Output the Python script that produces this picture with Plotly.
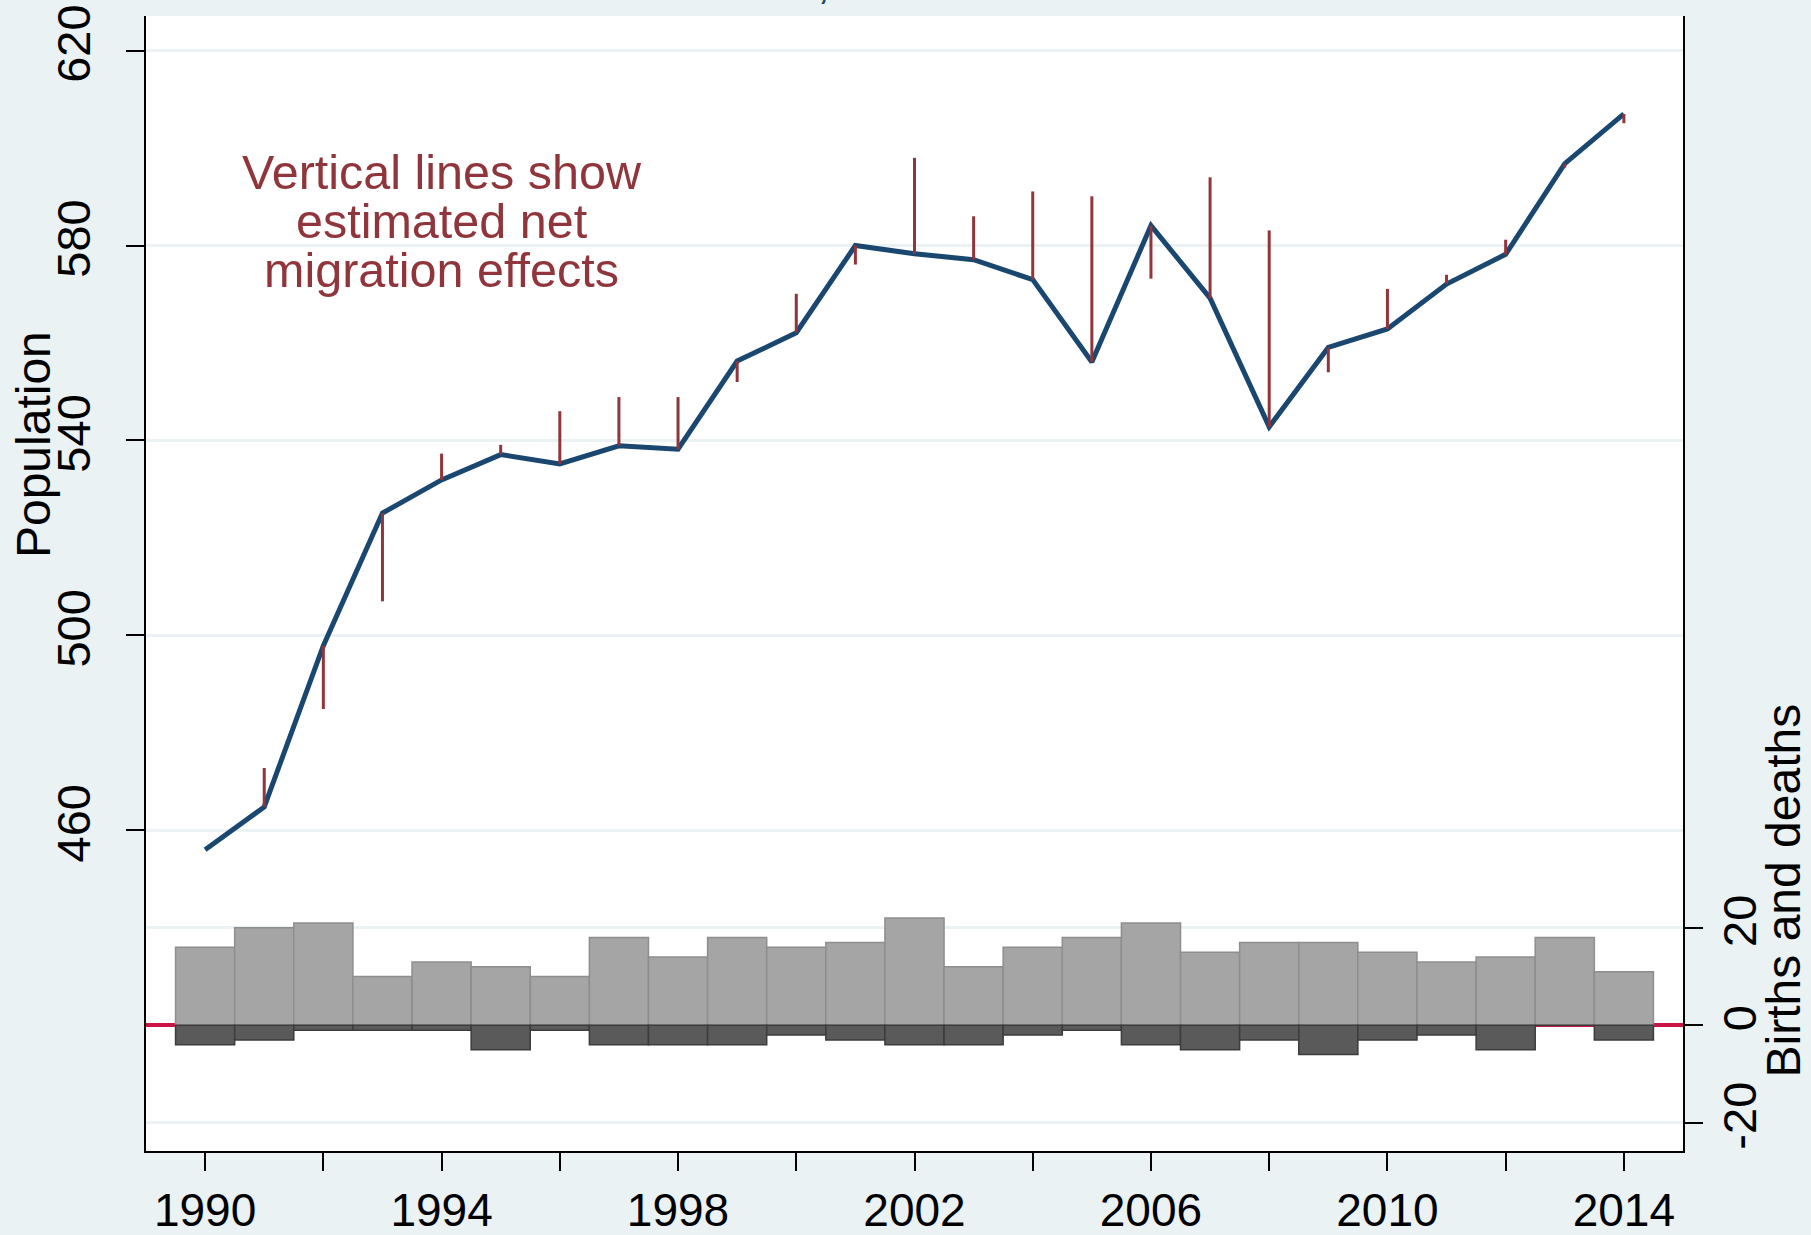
import plotly.graph_objects as go

years = list(range(1990, 2015))

# population (left axis)
population = [456.0, 464.8, 497.9, 525.1, 531.9, 537.1, 535.2, 538.9, 538.2, 556.3,
              562.1, 580.0, 578.3, 577.1, 573.0, 556.1, 584.1, 569.2, 542.8, 559.1,
              562.9, 572.1, 578.2, 596.8, 607.0]

# estimated net migration effect; red line runs from population to population - net_migration
net_migration = [0.0, -8.0, 13.0, 18.1, -5.4, -2.0, -10.8, -10.0, -10.7, 4.3,
                 -8.0, 3.9, -19.7, -8.9, -18.1, -34.0, 10.9, -24.8, -40.3, 5.1,
                 -8.2, -1.9, -3.0, 0.8, 1.9]

# births and deaths (right axis)
births = [16, 20, 21, 10, 13, 12, 10, 18, 14, 18, 16, 17, 22, 12, 16, 18, 21, 15, 17, 17,
          15, 13, 14, 18, 11]
deaths = [4, 3, 1, 1, 1, 5, 1, 4, 4, 4, 2, 3, 4, 4, 2, 1, 4, 5, 3, 6, 3, 2, 5, 0, 3]

left_ticks = [460, 500, 540, 580, 620]
right_ticks = [-20, 0, 20]
right_ticktext = ["-20", "0", "20"]
x_ticks = list(range(1990, 2015, 2))
x_ticktext = [str(y) if (y - 1990) % 4 == 0 else "" for y in x_ticks]

note_lines = ["Vertical lines show", "estimated net", "migration effects"]

NAVY = "#1A476F"
MAROON = "#90353B"
BG = "#EAF2F3"
FONT = "Liberation Sans, Arial, sans-serif"

fig = go.Figure()

fig.add_trace(go.Bar(x=years, y=births, width=1, yaxis="y2",
                     marker=dict(color="#A5A5A5", line=dict(color="#8E8E8E", width=1.5)),
                     name="Births"))
fig.add_trace(go.Bar(x=years, y=[-d for d in deaths], width=1, yaxis="y2",
                     marker=dict(color="#5A5A5A", line=dict(color="#3C3C3C", width=1.5)),
                     name="Deaths"))

fig.add_trace(go.Scatter(x=years, y=population, mode="lines",
                         line=dict(color=NAVY, width=5), name="Population"))

# vertical migration lines
mx, my = [], []
for yr, p, m in zip(years, population, net_migration):
    if m == 0:
        continue
    mx += [yr, yr, None]
    my += [p, p - m, None]
fig.add_trace(go.Scatter(x=mx, y=my, mode="lines",
                         line=dict(color=MAROON, width=3), name="Net migration"))

for txt, yv in zip(note_lines, [595, 585, 575]):
    fig.add_annotation(x=1994, y=yv, xref="x", yref="y", text=txt, showarrow=False,
                       font=dict(family=FONT, size=48.5, color=MAROON),
                       xanchor="center", yanchor="middle")

fig.add_annotation(x=-0.0735, y=0.622, xref="paper", yref="paper", text="Population",
                   showarrow=False, textangle=-90, font=dict(family=FONT, size=48, color="black"),
                   xanchor="center", yanchor="middle")
fig.add_annotation(x=1.066, y=0.23, xref="paper", yref="paper", text="Births and deaths",
                   showarrow=False, textangle=-90, font=dict(family=FONT, size=48, color="black"),
                   xanchor="center", yanchor="middle")
# clipped fragment of the title above the plot
fig.add_annotation(x=(823 - 146) / 1537, y=1.030, xref="paper", yref="paper",
                   text=",", showarrow=False, font=dict(family=FONT, size=47, color=NAVY),
                   xanchor="center", yanchor="middle")

fig.update_layout(
    width=1811, height=1235,
    margin=dict(l=146, r=128, t=16, b=84, autoexpand=False),
    paper_bgcolor=BG, plot_bgcolor="white",
    showlegend=False, barmode="overlay",
    font=dict(family=FONT, size=47, color="black"),
    xaxis=dict(range=[1989, 2015], tickvals=x_ticks, ticktext=x_ticktext,
               ticks="outside", ticklen=18, tickwidth=2, tickcolor="black",
               showline=True, linecolor="black", linewidth=2, showgrid=False,
               zeroline=False, tickfont=dict(size=46), automargin=False),
    yaxis=dict(range=[394.2, 627.1], tickvals=left_ticks, tickangle=-90,
               ticks="outside", ticklen=18, tickwidth=2, tickcolor="black",
               showline=True, linecolor="black", linewidth=2,
               showgrid=True, gridcolor=BG, gridwidth=3, zeroline=False,
               tickfont=dict(size=47), ticklabelstandoff=17, automargin=False),
    yaxis2=dict(range=[-25.8, 207.1], tickvals=right_ticks, ticktext=right_ticktext,
                tickangle=-90, overlaying="y", side="right",
                ticks="outside", ticklen=18, tickwidth=2, tickcolor="black",
                showline=True, linecolor="black", linewidth=2,
                showgrid=True, gridcolor=BG, gridwidth=3,
                zeroline=True, zerolinecolor="#CB1446", zerolinewidth=4,
                tickfont=dict(size=47), ticklabelstandoff=-3, automargin=False),
)

fig.write_html("out.html", config={"displayModeBar": False},
               post_script="document.body.style.margin='0';")
